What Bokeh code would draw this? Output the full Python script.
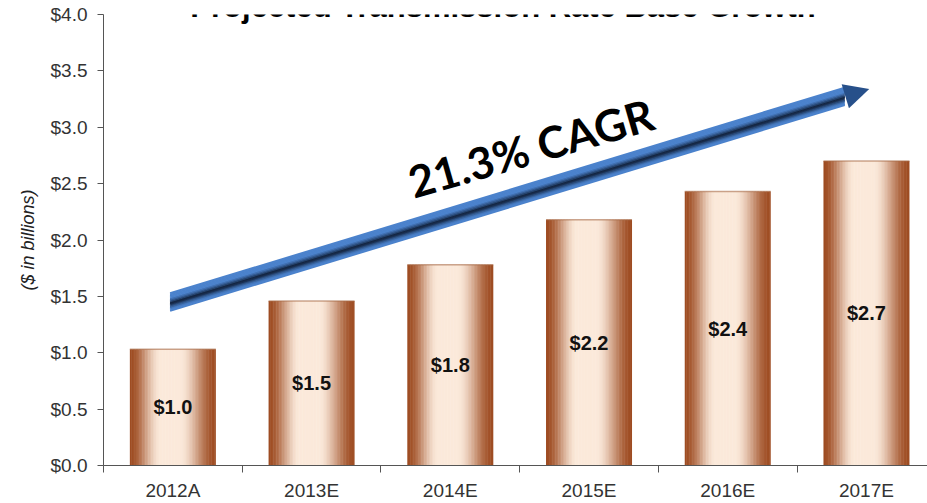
import numpy as np
from bokeh.plotting import figure
from bokeh.models import Range1d, FixedTicker, NumeralTickFormatter, Label, Arrow, NormalHead
from bokeh.core.properties import value
from bokeh.embed import file_html
from bokeh.resources import INLINE

# ---------------- data ----------------
categories = ["2012A", "2013E", "2014E", "2015E", "2016E", "2017E"]
values = [1.03, 1.46, 1.78, 2.18, 2.43, 2.70]
value_labels = ["$%.1f" % v for v in values]
y_ticks = [0.0, 0.5, 1.0, 1.5, 2.0, 2.5, 3.0, 3.5, 4.0]
title_text = "Projected Transmission Rate Base Growth"
cagr_text = "21.3% CAGR"
y_axis_title = "($ in billions)"

# annotation geometry (data units)
arrow_start = (0.48, 1.45)
arrow_end = (5.52, 3.34)
cagr_pos = (3.08, 2.82)
title_pos = (2.88, 4.072)

# ---------------- figure ----------------
xpos = [i + 0.5 for i in range(len(categories))]

p = figure(width=927, height=503, output_backend="svg", toolbar_location=None,
           x_range=Range1d(0, 5.94), y_range=Range1d(0, 4.0),
           min_border_left=103, min_border_right=0, min_border_top=14, min_border_bottom=37)
p.outline_line_color = None
p.xgrid.visible = False
p.ygrid.visible = False
p.background_fill_color = "white"

# ---------------- bars with horizontal gradient ----------------
BAR_W = 0.62
N = 56
dark = np.array([0x9e, 0x4c, 0x22], dtype=float)
light = np.array([0xfb, 0xe9, 0xda], dtype=float)
sw = BAR_W / N


def smooth(d):
    d = min(max(d, 0.0), 1.0)
    return 3 * d * d - 2 * d * d * d


for k in range(N):
    t = (k + 0.5) / N
    f = min(smooth(t / 0.36), smooth((1 - t) / 0.42))
    c = dark + (light - dark) * f
    color = "#%02x%02x%02x" % tuple(int(round(v)) for v in c)
    left = [x - BAR_W / 2 + k * sw for x in xpos]
    extra = sw * 0.3 if k < N - 1 else 0.0
    right = [l + sw + extra for l in left]
    p.quad(left=left, right=right, bottom=0, top=values,
           fill_color=color, line_color=None)

# faint top edge of each bar
p.segment(x0=[x - BAR_W / 2 for x in xpos], y0=values,
          x1=[x + BAR_W / 2 for x in xpos], y1=values,
          line_color="#a86a48", line_width=1.5, line_alpha=0.6)

# value labels
p.text(x=xpos, y=[v / 2 for v in values], text=value_labels,
       text_font=value("Liberation Sans"), text_font_style="bold",
       text_font_size="20px", text_align="center", text_baseline="middle",
       text_color="#111111")

# ---------------- CAGR arrow with gradient ----------------
sx, sy = arrow_start
ex, ey = arrow_end
frac = 0.965
shx = sx + (ex - sx) * frac
shy = sy + (ey - sy) * frac
NS = 14
thick = 0.166
navy = np.array([0x0b, 0x18, 0x2e], dtype=float)
blue = np.array([0x4b, 0x82, 0xcc], dtype=float)
for k in range(NS):
    s = (k + 0.5) / NS * 2 - 1          # -1 bottom .. +1 top
    f = min(1.0, abs(s + 0.12) / 0.6) ** 0.8
    c = navy + (blue - navy) * f
    color = "#%02x%02x%02x" % tuple(int(round(v)) for v in c)
    dy = s * thick / 2
    p.segment(x0=[sx], y0=[sy + dy], x1=[shx], y1=[shy + dy],
              line_color=color, line_width=2.0, line_cap="butt")

p.add_layout(Arrow(end=NormalHead(size=25, fill_color="#27508a", line_color=None),
                   x_start=sx + (ex - sx) * 0.8, y_start=sy + (ey - sy) * 0.8,
                   x_end=ex, y_end=ey, line_alpha=0))

p.add_layout(Label(x=cagr_pos[0], y=cagr_pos[1], text=cagr_text, angle=0.28,
                   text_font="Lato", text_font_style="bold", text_font_size="44px",
                   text_align="center", text_baseline="middle", text_color="black"))

# title: only its lower part is visible at the top edge, as in the reference
p.add_layout(Label(x=title_pos[0], y=title_pos[1], text=title_text,
                   text_font="Liberation Sans", text_font_style="bold",
                   text_font_size="31px", text_align="center",
                   text_baseline="alphabetic", text_color="black"))

# ---------------- axes ----------------
axis_color = "#555555"
p.xaxis.ticker = FixedTicker(ticks=xpos, minor_ticks=list(range(len(categories) + 1)))
p.xaxis.major_label_overrides = {x: c for x, c in zip(xpos, categories)}
p.xaxis.major_tick_line_color = None
p.xaxis.major_tick_out = 0
p.xaxis.major_tick_in = 0
p.xaxis.minor_tick_out = 7
p.xaxis.minor_tick_in = 0
p.xaxis.minor_tick_line_color = axis_color
p.xaxis.axis_line_color = axis_color
p.xaxis.major_label_standoff = 7
p.xaxis.major_label_text_font = "Liberation Sans"
p.xaxis.major_label_text_font_size = "19px"
p.xaxis.major_label_text_color = "#333333"

p.yaxis.ticker = FixedTicker(ticks=y_ticks)
p.yaxis.formatter = NumeralTickFormatter(format="$0.0")
p.yaxis.minor_tick_line_color = None
p.yaxis.major_tick_out = 6
p.yaxis.major_tick_in = 0
p.yaxis.major_tick_line_color = axis_color
p.yaxis.axis_line_color = axis_color
p.yaxis.major_label_standoff = 10
p.yaxis.major_label_text_font = "Liberation Sans"
p.yaxis.major_label_text_font_size = "19px"
p.yaxis.major_label_text_color = "#333333"
p.yaxis.axis_label = y_axis_title
p.yaxis.axis_label_text_font = "Liberation Sans"
p.yaxis.axis_label_text_font_style = "italic"
p.yaxis.axis_label_text_font_size = "18px"
p.yaxis.axis_label_text_color = "#222222"
p.yaxis.axis_label_standoff = 10

open("out.html", "w").write(file_html(p, INLINE))
